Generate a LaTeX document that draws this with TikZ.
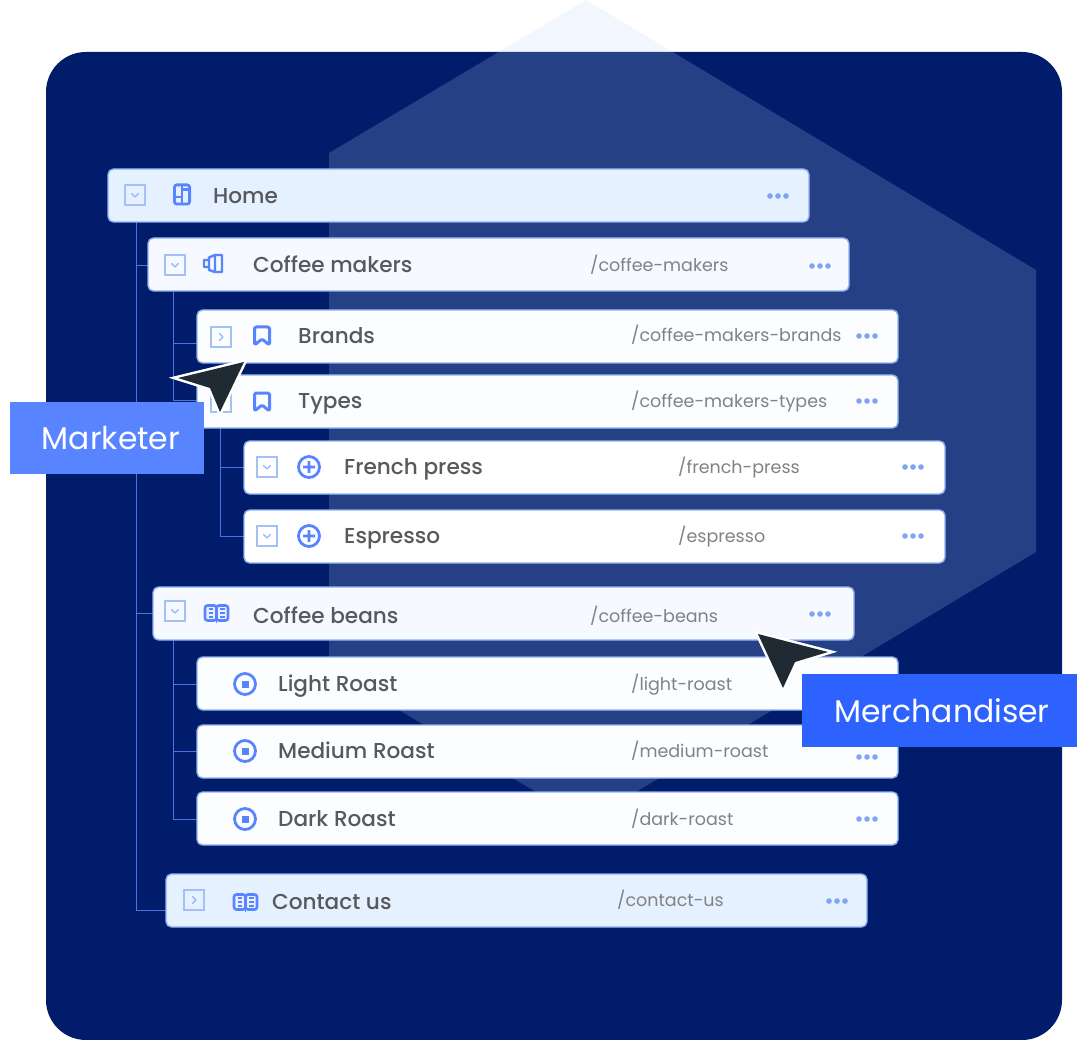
\documentclass[tikz,border=0pt]{standalone}
\usepackage{fontspec}
\setmainfont{Poppins}
\newfontfamily\midfont{Poppins Medium}
\definecolor{navy}{HTML}{001C6A}
\definecolor{hexc}{RGB}{190,210,250}
\definecolor{edge}{HTML}{8FB0F2}
\definecolor{lineb}{HTML}{4A74E0}
\definecolor{iconb}{HTML}{5885FF}
\definecolor{merchb}{HTML}{2D62FF}
\definecolor{dotb}{HTML}{7FA4F5}
\definecolor{boxb}{HTML}{A3C0F7}
\definecolor{titlec}{HTML}{57595C}
\definecolor{pathc}{HTML}{808285}
\definecolor{cursorc}{HTML}{1F2A33}
\definecolor{fillA}{HTML}{E6F1FF}
\definecolor{fillB}{HTML}{F6F9FF}
\definecolor{fillC}{HTML}{FCFDFF}
\tikzset{
  x=1pt,y=-1pt,
  card/.style={draw=edge,line width=1.4pt,rounded corners=5.5pt,minimum width=701pt,minimum height=53pt,anchor=north west,inner sep=0pt,outer sep=0pt},
  titletext/.style={text=titlec,anchor=base west,inner sep=0pt,font=\midfont\fontsize{21.6}{26}\selectfont},
  pathtext/.style={text=pathc,anchor=base west,inner sep=0pt,font=\fontsize{17.5}{22}\selectfont},
  roletext/.style={text=white,anchor=center,inner sep=0pt,font=\fontsize{31.4}{40}\selectfont},
  rolebox/.style={anchor=north west,inner sep=0pt,outer sep=0pt},
  link/.style={draw=lineb,line width=0.9pt},
  cursorshape/.style={fill=cursorc,preaction={draw=white,line width=5pt,line join=miter,miter limit=20}},
  chk/.pic={\draw[boxb,line width=1.2pt] (-10,-10) rectangle (10,10);
            \draw[boxb!80!iconb,line width=1.1pt,line cap=round,line join=round] (-3.5,-1.5) -- (0,2) -- (3.5,-1.5);},
  chr/.pic={\draw[boxb,line width=1.2pt] (-10,-10) rectangle (10,10);
            \draw[boxb!80!iconb,line width=1.1pt,line cap=round,line join=round] (-1.5,-3.5) -- (2,0) -- (-1.5,3.5);},
  threedots/.pic={\fill[dotb] (-8,0) circle (2.8) (0,0) circle (2.8) (8,0) circle (2.8);},
  mark-book/.pic={\draw[iconb,line width=2.6pt,rounded corners=2.5pt,fill=iconb!12] (-11.5,-7.5) rectangle (0,7.5) (0,-7.5) rectangle (11.5,7.5);
     \draw[iconb,line width=1.9pt] (-8,-3.7) -- (-3.5,-3.7) (-8,0) -- (-3.5,0) (-8,3.7) -- (-3.5,3.7) (3.5,-3.7) -- (8,-3.7) (3.5,0) -- (8,0) (3.5,3.7) -- (8,3.7) (0,8) -- (0,10);},
  mark-save/.pic={\draw[iconb,line width=3pt,line join=round,rounded corners=1.5pt] (-7.5,9) -- (-7.5,-9) -- (7.5,-9) -- (7.5,9) -- (0,3) -- cycle;},
  mark-plus/.pic={\draw[iconb,line width=2.8pt] (0,0) circle (10.5) (-6,0) -- (6,0) (0,-6) -- (0,6);},
  mark-dot/.pic={\draw[iconb,line width=2.8pt] (0,0) circle (10.5); \fill[iconb] (-3.5,-3.5) rectangle (3.5,3.5);},
  mark-grid/.pic={\draw[iconb,line width=2.8pt,rounded corners=2.5pt] (-7.6,-9.6) rectangle (7.6,9.6);
     \draw[iconb,line width=2.4pt] (0,-9.6) -- (0,9.6) (-7.6,2.5) -- (0,2.5) (0,-5) -- (7.6,-5);},
  mark-maker/.pic={\draw[iconb,line width=2.4pt,line join=round] (-9,-3.5) rectangle (-4,3.5) (-4,-6) -- (2,-8.5) -- (2,8.5) -- (-4,6.5) -- cycle (2,-8.5) -- (9,-8.5) -- (9,8.5) -- (2,8.5);}
}
\newcommand{\cardbox}[4]{\node[card,fill=#4] (#1) at (#2,#3) {};}
\begin{document}
\begin{tikzpicture}
\useasboundingbox (0,0) rectangle (1092,1040);
% backdrop
\fill[navy,rounded corners=40pt] (46,52) rectangle (1062,1040);
\fill[hexc,fill opacity=.2] (586,0) -- (1036,270) -- (1036,552) -- (586,822) -- (329,668) -- (329,153) -- cycle;
\coordinate (trunk) at (136,222);
\coordinate (branchA) at (173,291);
\coordinate (branchB) at (220,428);
\coordinate (branchC) at (173,640);
\coordinate (tMakers) at (148,265);
\coordinate (tBeans) at (153,613);
\coordinate (tContact) at (166,910);
\coordinate (tBrands) at (197,343);
\coordinate (tTypes) at (197,400);
\coordinate (tFrench) at (244,467);
\coordinate (tEspresso) at (244,536);
\coordinate (tLight) at (197,684);
\coordinate (tMedium) at (197,751);
\coordinate (tDark) at (197,819);
\draw[link] (trunk) |- (tContact);
\draw[link] (trunk |- tMakers) -- (tMakers);
\draw[link] (trunk |- tBeans) -- (tBeans);
\draw[link] (branchA) |- (tTypes);
\draw[link] (branchA |- tBrands) -- (tBrands);
\draw[link] (branchB) |- (tEspresso);
\draw[link] (branchB |- tFrench) -- (tFrench);
\draw[link] (branchC) |- (tDark);
\draw[link] (branchC |- tLight) -- (tLight);
\draw[link] (branchC |- tMedium) -- (tMedium);
% cards
\cardbox{home}{108}{169}{fillA}
\cardbox{makers}{148}{238}{fillB}
\cardbox{brands}{197}{310}{fillC}
\cardbox{types}{197}{375}{fillC}
\cardbox{french}{244}{441}{white}
\cardbox{espresso}{244}{510}{white}
\cardbox{beans}{153}{587}{fillB}
\cardbox{light}{197}{657}{fillC}
\cardbox{medium}{197}{725}{fillC}
\cardbox{dark}{197}{792}{fillC}
\cardbox{contact}{166}{874}{fillA}
% toggles
\pic at (135,195) {chk};
\pic at (175,265) {chk};
\pic at (221,337) {chr};
\pic at (221,402) {chk};
\pic at (267,467) {chk};
\pic at (267,536) {chk};
\pic at (175,611) {chk};
\pic at (194,900) {chr};
% icons
\pic at (182,194.5) {mark-grid};
\pic at (213,263.5) {mark-maker};
\pic at (262,336) {mark-save};
\pic at (262,402) {mark-save};
\pic at (309,467) {mark-plus};
\pic at (309,536) {mark-plus};
\pic at (216.5,613) {mark-book};
\pic at (245,684) {mark-dot};
\pic at (245,751) {mark-dot};
\pic at (245,819) {mark-dot};
\pic at (245.5,902) {mark-book};
% titles
\node[titletext] (homeT) at (213,204) {Home};
\node[titletext] (makersT) at (253,273) {Coffee makers};
\node[titletext] (brandsT) at (298,344) {Brands};
\node[titletext] (typesT) at (298,408) {Types};
\node[titletext] (frenchT) at (344,474) {French press};
\node[titletext] (espressoT) at (344,543) {Espresso};
\node[titletext] (beansT) at (253,623) {Coffee beans};
\node[titletext] (lightT) at (278,691) {Light Roast};
\node[titletext] (mediumT) at (278,758) {Medium Roast};
\node[titletext] (darkT) at (278,826) {Dark Roast};
\node[titletext] (contactT) at (272,909) {Contact us};
% paths
\node[pathtext] (makersP) at (590,272) {/coffee-makers};
\node[pathtext] (brandsP) at (631,342) {/coffee-makers-brands};
\node[pathtext] (typesP) at (631,407) {/coffee-makers-types};
\node[pathtext] (frenchP) at (678,473) {/french-press};
\node[pathtext] (espressoP) at (678,542) {/espresso};
\node[pathtext] (beansP) at (590,622) {/coffee-beans};
\node[pathtext] (lightP) at (631,690) {/light-roast};
\node[pathtext] (mediumP) at (631,757) {/medium-roast};
\node[pathtext] (darkP) at (631,825) {/dark-roast};
\node[pathtext] (contactP) at (617,906) {/contact-us};
% dots
\pic at (778,196) {threedots};
\pic at (820,266) {threedots};
\pic at (867,336) {threedots};
\pic at (867,401) {threedots};
\pic at (913,467) {threedots};
\pic at (913,536) {threedots};
\pic at (820,614) {threedots};
\pic at (867,757) {threedots};
\pic at (867,819) {threedots};
\pic at (837,901) {threedots};
% cursors
\path[cursorshape] (178,378) -- (244,362) -- (220,412) -- (210,388) -- cycle;
\path[cursorshape] (758,634) -- (828,652) -- (795,662) -- (783,688) -- cycle;
% role labels
\node[rolebox,fill=iconb,minimum width=194pt,minimum height=72pt] (marketer) at (10,402) {};
\node[roletext,xshift=4pt] (marketerT) at (marketer.center) {Marketer};
\node[rolebox,fill=merchb,minimum width=275pt,minimum height=73pt] (merch) at (802,674) {};
\node[roletext,xshift=2.5pt] (merchT) at (merch.center) {Merchandiser};
\end{tikzpicture}
\end{document}
